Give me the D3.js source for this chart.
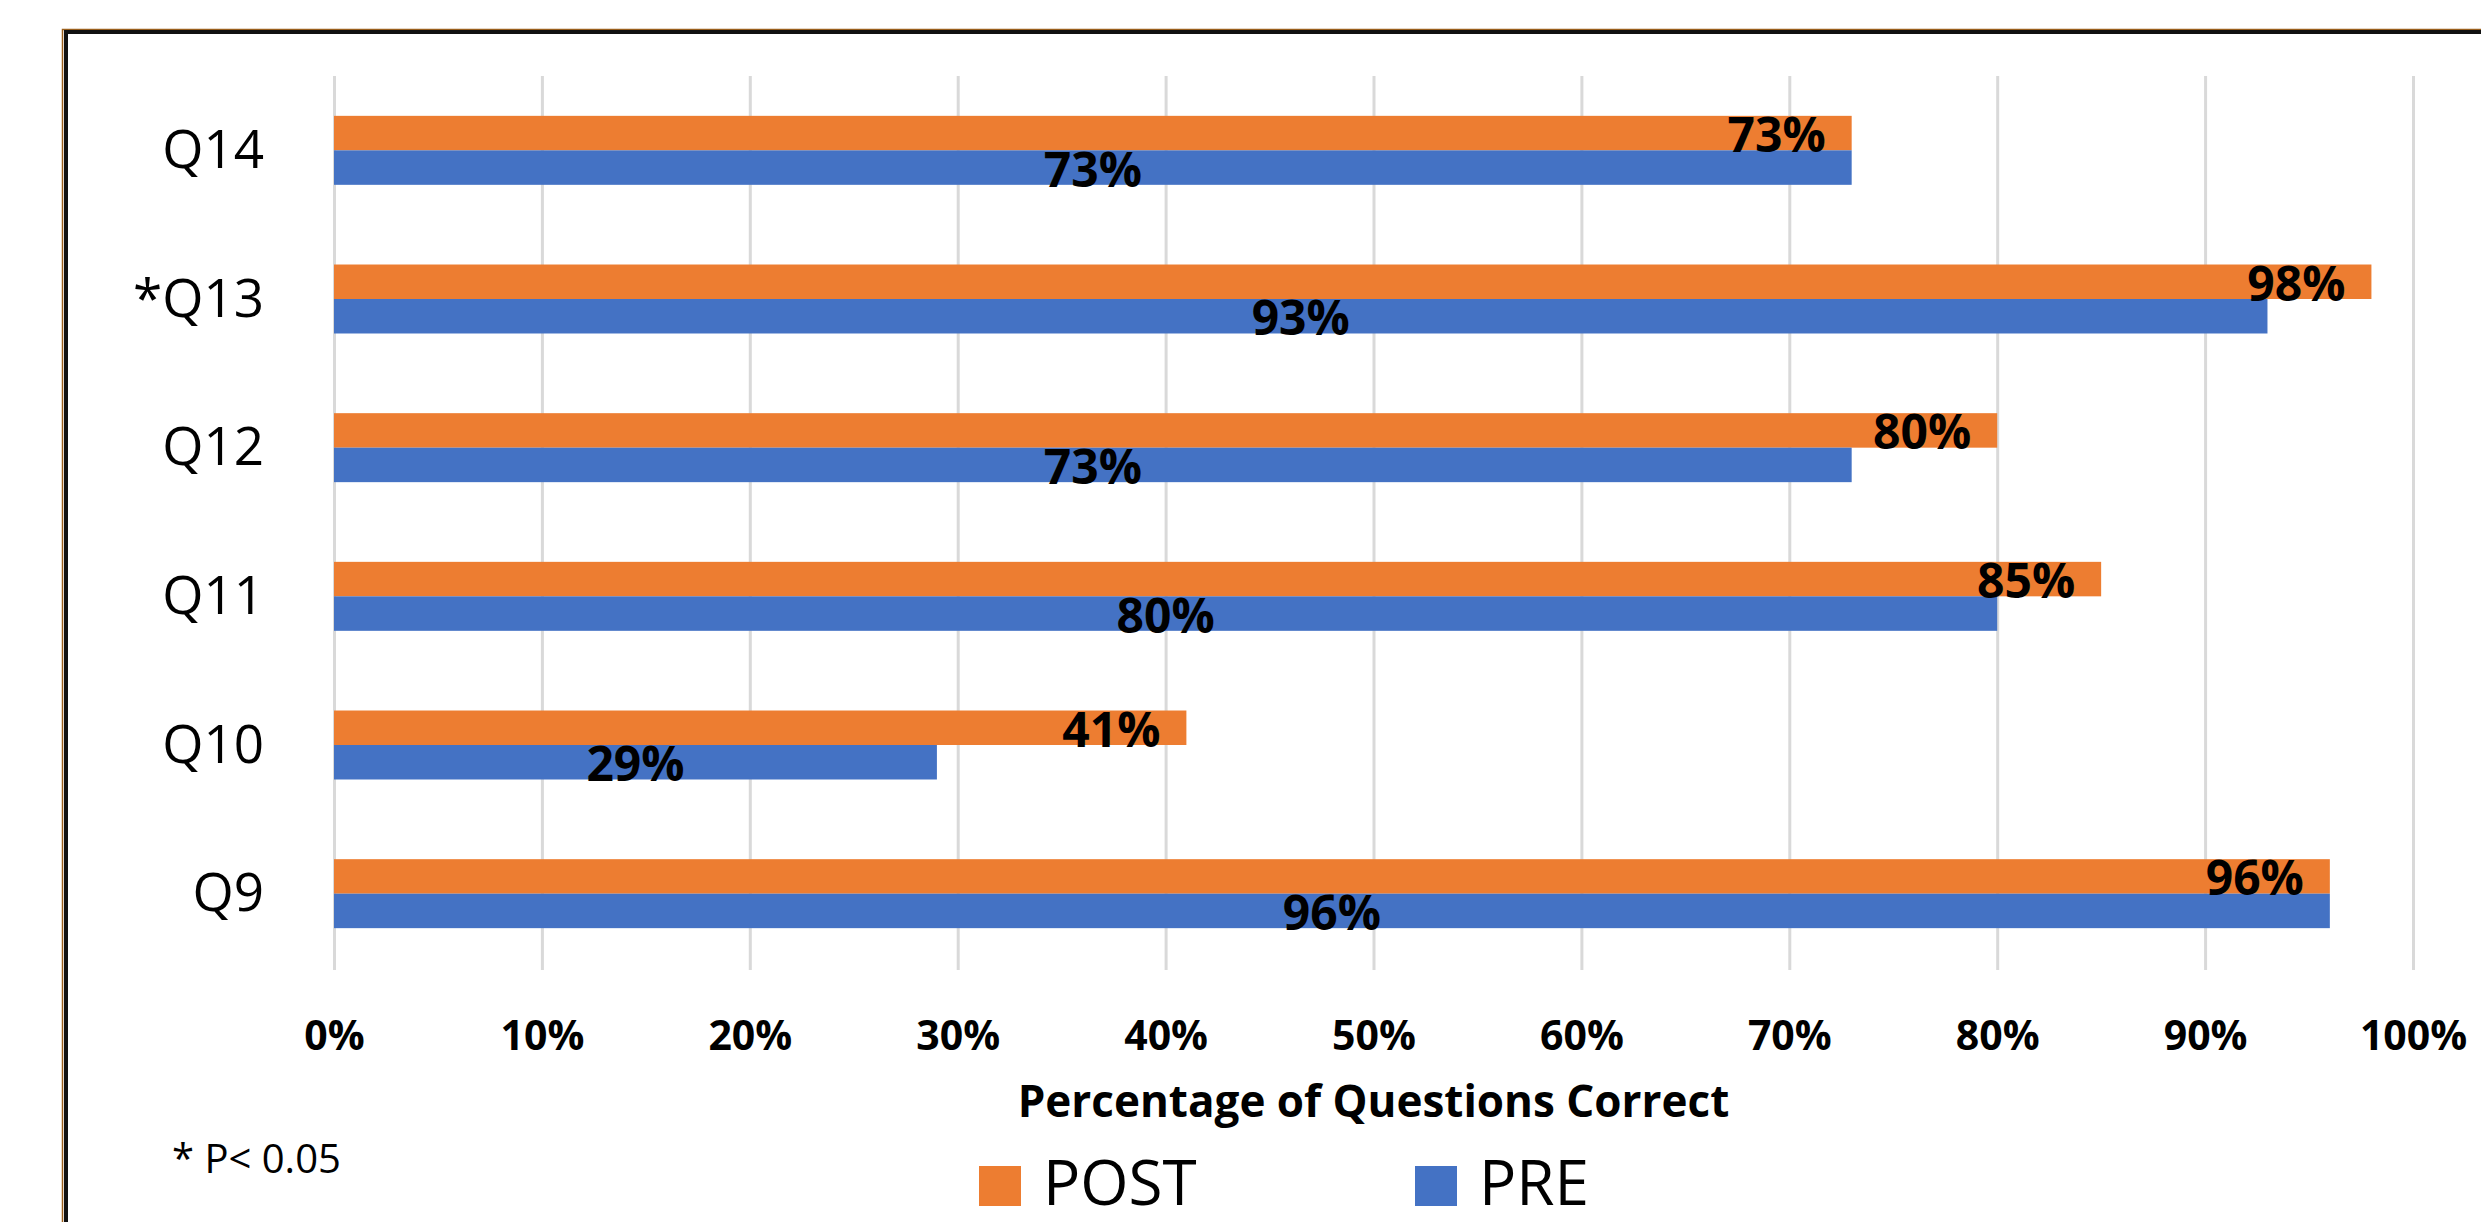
<!DOCTYPE html>
<html>
<head>
<meta charset="utf-8">
<script src="https://cdn.jsdelivr.net/npm/d3@7"></script>
<style>
  body { margin: 0; background: #fff; }
  svg { display: block; font-family: "Open Sans", "DejaVu Sans", sans-serif; }
</style>
</head>
<body>
<svg id="chart"></svg>
<script>
// chart data (top row first)
const categories = ['Q14', '*Q13', 'Q12', 'Q11', 'Q10', 'Q9'];
const seriesNames = ['POST', 'PRE'];
const postValues = [0.73, 0.98, 0.80, 0.85, 0.41, 0.96];
const preValues = [0.73, 0.93, 0.73, 0.80, 0.29, 0.96];
const tickValues = [0, 0.1, 0.2, 0.3, 0.4, 0.5, 0.6, 0.7, 0.8, 0.9, 1.0];

const colors = { POST: '#ED7D31', PRE: '#4472C4' };

const width = 2481;
const height = 1222;
const plot = { left: 334, right: 2413, top: 76, bottom: 970 };

const svg = d3.select('#chart')
  .attr('width', width)
  .attr('height', height)
  .attr('viewBox', `0 0 ${width} ${height}`);

svg.append('rect')
  .attr('width', width)
  .attr('height', height)
  .attr('fill', '#fff');

// outer frame (runs off the right and bottom edges)
svg.append('rect')
  .attr('x', 62.5).attr('y', 29.5)
  .attr('width', width).attr('height', height)
  .attr('fill', 'none')
  .attr('stroke', '#9a5f1c')
  .attr('stroke-width', 1.5);
svg.append('rect')
  .attr('x', 66).attr('y', 32)
  .attr('width', width).attr('height', height)
  .attr('fill', 'none')
  .attr('stroke', '#111')
  .attr('stroke-width', 4);

// scales
const x = d3.scaleLinear()
  .domain([0, 1])
  .range([plot.left, plot.right]);

const y = d3.scaleBand()
  .domain(categories)
  .range([plot.top, plot.bottom - 2])
  .paddingInner(0.536)
  .paddingOuter(0.268);

const ySub = d3.scaleBand()
  .domain(seriesNames)
  .range([0, y.bandwidth()]);

// x axis with gridlines
const xAxis = d3.axisBottom(x)
  .tickValues(tickValues)
  .tickFormat(d3.format('.0%'))
  .tickSize(-(plot.bottom - plot.top));

const gx = svg.append('g')
  .attr('transform', `translate(0, ${plot.bottom})`)
  .call(xAxis);
gx.select('.domain').remove();
gx.selectAll('.tick line')
  .attr('stroke', '#d9d9d9')
  .attr('stroke-width', 3);
gx.selectAll('.tick text')
  .attr('y', 80)
  .attr('dy', 0)
  .attr('fill', '#000')
  .attr('font-size', '41px')
  .attr('font-weight', 700)
  .attr('font-family', '"Open Sans", sans-serif');

// y axis (category labels)
const yAxis = d3.axisLeft(y).tickSize(0).tickPadding(70);
const gy = svg.append('g')
  .attr('transform', `translate(${plot.left}, 0)`)
  .call(yAxis);
gy.select('.domain').remove();
gy.selectAll('.tick text')
  .attr('fill', '#000')
  .attr('font-size', '53px')
  .attr('font-weight', 400)
  .attr('font-family', '"Open Sans", sans-serif')
  .attr('dy', '0.33em');

// bars
const rows = categories.map((c, i) => ({ category: c, POST: postValues[i], PRE: preValues[i] }));

const groups = svg.append('g')
  .selectAll('g')
  .data(rows)
  .join('g')
  .attr('transform', d => `translate(0, ${y(d.category)})`);

groups.selectAll('rect')
  .data(d => seriesNames.map(s => ({ series: s, value: d[s] })))
  .join('rect')
  .attr('x', x(0))
  .attr('y', d => ySub(d.series))
  .attr('width', d => x(d.value) - x(0))
  .attr('height', ySub.bandwidth())
  .attr('fill', d => colors[d.series]);

// data labels: POST at inside end, PRE centred
groups.selectAll('text')
  .data(d => seriesNames.map(s => ({ series: s, value: d[s] })))
  .join('text')
  .attr('x', d => d.series === 'POST' ? x(d.value) - 26 : (x(0) + x(d.value)) / 2)
  .attr('y', d => ySub(d.series) + ySub.bandwidth() / 2 + 19)
  .attr('text-anchor', d => d.series === 'POST' ? 'end' : 'middle')
  .attr('font-size', '48px')
  .attr('font-weight', 700)
  .attr('fill', '#000')
  .text(d => d3.format('.0%')(d.value));

// axis title
svg.append('text')
  .attr('x', (plot.left + plot.right) / 2)
  .attr('y', 1117)
  .attr('text-anchor', 'middle')
  .attr('font-size', '44px')
  .attr('font-weight', 700)
  .attr('fill', '#000')
  .text('Percentage of Questions Correct');

// footnote
svg.append('text')
  .attr('x', 172)
  .attr('y', 1173)
  .attr('font-size', '40px')
  .attr('fill', '#000')
  .text('* P< 0.05');

// legend
const legendX = [979, 1415];
const legend = svg.append('g')
  .selectAll('g')
  .data(seriesNames)
  .join('g')
  .attr('transform', (d, i) => `translate(${legendX[i]}, 1166)`);

legend.append('rect')
  .attr('width', 42)
  .attr('height', 40)
  .attr('fill', d => colors[d]);

legend.append('text')
  .attr('x', 64)
  .attr('y', 39)
  .attr('font-size', '62px')
  .attr('fill', '#000')
  .text(d => d);
</script>
</body>
</html>
